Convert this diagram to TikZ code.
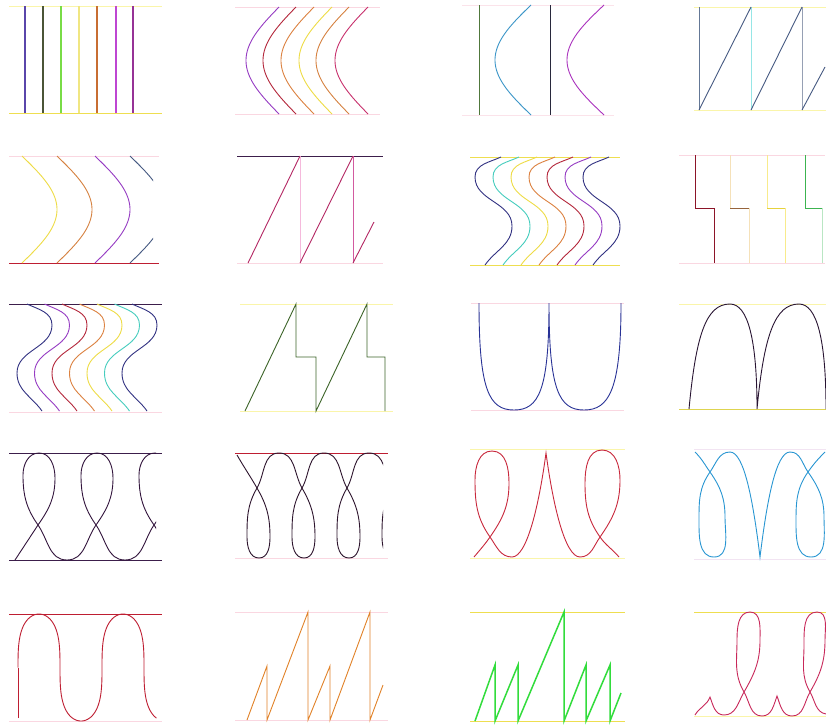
\documentclass[tikz,border=0pt]{standalone}
\definecolor{gly}{RGB}{250,245,170}
\definecolor{gy}{RGB}{238,222,80}
\definecolor{gp}{RGB}{250,215,225}
\definecolor{gdk}{RGB}{60,30,75}
\definecolor{grd}{RGB}{190,30,50}
\definecolor{navy}{RGB}{50,50,130}
\definecolor{purp}{RGB}{150,60,195}
\definecolor{redb}{RGB}{180,40,60}
\definecolor{orng}{RGB}{220,130,65}
\definecolor{yell}{RGB}{238,220,70}
\definecolor{teal}{RGB}{70,205,190}
\definecolor{magr}{RGB}{200,50,110}
\definecolor{slate}{RGB}{70,90,130}
\definecolor{pA}{RGB}{80,120,60}
\definecolor{pB}{RGB}{60,150,200}
\definecolor{pC}{RGB}{40,40,60}
\definecolor{pD}{RGB}{170,50,190}
\definecolor{pE}{RGB}{100,120,150}
\definecolor{pF}{RGB}{150,230,230}
\definecolor{pG}{RGB}{150,160,180}
\definecolor{pH}{RGB}{245,185,220}
\definecolor{pI}{RGB}{210,90,160}
\definecolor{pJ}{RGB}{180,40,100}
\definecolor{pK}{RGB}{140,20,40}
\definecolor{pL}{RGB}{245,225,185}
\definecolor{pM}{RGB}{150,100,60}
\definecolor{pN}{RGB}{248,235,140}
\definecolor{pO}{RGB}{230,210,60}
\definecolor{pP}{RGB}{60,180,80}
\definecolor{pQ}{RGB}{185,230,195}
\definecolor{pR}{RGB}{60,100,40}
\definecolor{pS}{RGB}{40,50,150}
\definecolor{pT}{RGB}{222,212,80}
\definecolor{pU}{RGB}{40,20,50}
\definecolor{pV}{RGB}{50,20,60}
\definecolor{pW}{RGB}{45,20,45}
\definecolor{pX}{RGB}{200,40,60}
\definecolor{pY}{RGB}{242,228,242}
\definecolor{pZ}{RGB}{40,150,210}
\definecolor{qA}{RGB}{190,30,50}
\definecolor{qB}{RGB}{225,130,40}
\definecolor{qC}{RGB}{50,220,60}
\definecolor{qD}{RGB}{200,40,90}
\begin{document}
\begin{tikzpicture}[x=1pt,y=1pt,
  guide/.style={line width=0.9pt},
  crv/.style={line width=0.9pt},
  bold/.style={line width=1.5pt}]
\useasboundingbox (0,0) rectangle (826,-724);
\fill[white] (0,0) rectangle (826,-724);
% ---------------- Row 1 ----------------
% P1
\draw[guide,gly] (9,-6) -- (162,-6);
\draw[guide,gy] (9,-113) -- (162,-113);
\foreach \x/\r/\g/\b in {25/90/70/170,43/75/85/55,61/120/220/70,79/240/230/130,97/200/110/50,116/190/70/210,133/150/50/150}{
  \definecolor{tmpc}{RGB}{\r,\g,\b}
  \draw[bold,tmpc] (\x,-6) -- (\x,-113);}
% P2
\draw[guide,gp] (235,-7) -- (380,-7);
\draw[guide,gp] (235,-114) -- (380,-114);
\foreach \x/\c in {279/purp,296/redb,314/orng,332/yell,349/orng!80!brown,368/magr}
  \draw[crv,\c] plot[domain=0:180,samples=40,variable=\t] ({\x-33*sin(\t)},{-7-\t/180*107});
% P3
\draw[guide,gp!70] (462,-5) -- (614,-5);
\draw[guide,gp!70] (462,-115) -- (614,-115);
\draw[crv,pA] (479,-5) -- (479,-115);
\draw[crv,pB] plot[domain=0:180,samples=40,variable=\t] ({531-36*sin(\t)},{-5-\t/180*110});
\draw[crv,pC] (550,-5) -- (550,-115);
\draw[crv,pD] plot[domain=0:180,samples=40,variable=\t] ({604-37*sin(\t)},{-5-\t/180*110});
% P4
\draw[guide,gly] (694,-7) -- (826,-7);
\draw[guide,gly] (694,-110) -- (826,-110);
\draw[crv,pE] (699,-7) -- (699,-110);
\draw[crv,pF] (751,-7) -- (751,-110);
\draw[crv,pG] (802,-7) -- (802,-110);
\draw[crv,slate] (699,-110) -- (751,-7) (751,-110) -- (802,-7) (802,-110) -- (825,-67);
% ---------------- Row 2 ----------------
% P5
\draw[guide,gp] (9,-156) -- (159,-156);
\draw[guide,grd] (9,-263) -- (159,-263);
\begin{scope}
\clip (9,-150) rectangle (153,-270);
\foreach \x/\c in {22/yell,57/orng!80!brown,95/purp,130/slate}
  \draw[crv,\c] plot[domain=0:180,samples=40,variable=\t] ({\x+35*sin(\t)},{-156-\t/180*107});
\end{scope}
% P6
\draw[guide,gdk] (237,-156) -- (383,-156);
\draw[guide,gp] (237,-263) -- (383,-263);
\draw[crv,pH] (300,-156) -- (300,-263);
\draw[crv,pI] (353,-156) -- (353,-263);
\draw[crv,pJ] (248,-263) -- (300,-156) (300,-263) -- (353,-156) (353,-263) -- (374,-222);
% P7
\draw[guide,gy] (470,-157) -- (620,-157);
\draw[guide,gy] (470,-265) -- (620,-265);
\foreach \x/\c in {501/navy,519/teal,537/yell,555/orng,573/redb,591/purp,609/navy}
  \draw[crv,\c] (\x,-157) to[out=205,in=90] ++(-26,-20) to[out=-90,in=90] ++(37,-49) to[out=-90,in=55] ++(-27,-39);
% P8
\draw[guide,gp] (679,-155) -- (825,-155);
\draw[guide,gp] (679,-263) -- (825,-263);
\draw[crv,pK] (695,-155) -- (695,-208) -- (714,-208) -- (714,-263);
\draw[crv,pL] (730,-155) -- (730,-208) (749,-208) -- (749,-263);
\draw[crv,pM] (730,-208) -- (749,-208);
\draw[crv,pN] (767,-155) -- (767,-208) (785,-208) -- (785,-263);
\draw[crv,pO] (767,-208) -- (785,-208);
\draw[crv,pP] (805,-155) -- (805,-208) -- (822,-208);
\draw[crv,pQ] (822,-208) -- (822,-263);
% ---------------- Row 3 ----------------
% P9
\draw[guide,gdk] (9,-304) -- (162,-304);
\draw[guide,gp] (9,-412) -- (162,-412);
\foreach \x/\c in {27/navy,44.5/purp,62/redb,79.5/orng,97/yell,114.5/teal,132/navy}
  \draw[crv,\c] (\x,-304) to[out=-25,in=90] ++(25,-21) to[out=-90,in=90] ++(-35,-48) to[out=-90,in=125] ++(25,-38);
% P10
\draw[guide,gly] (240,-304) -- (393,-304);
\draw[guide,gly] (240,-411) -- (393,-411);
\draw[crv,pR] (245,-411) -- (296,-304) -- (296,-357) -- (316,-357) -- (316,-411) -- (367,-304) -- (367,-357) -- (385,-357) -- (385,-411);
% P11
\draw[guide,gp] (471,-303) -- (624,-303);
\draw[guide,gp] (471,-410) -- (624,-410);
\draw[crv,pS] (479,-303) .. controls (479,-390) and (489,-410) .. (514,-410) .. controls (539,-410) and (549,-390) .. (549,-303)
  .. controls (549,-390) and (559,-410) .. (584,-410) .. controls (609,-410) and (621,-390) .. (621,-303);
% P12
\draw[guide,gly] (679,-304) -- (826,-304);
\draw[guide,pT] (679,-409) -- (826,-409);
\begin{scope}
\clip (679,-290) rectangle (826,-420);
\draw[crv,pU] (689,-409) .. controls (696,-335) and (706,-304) .. (730,-304) .. controls (748,-304) and (757,-340) .. (757,-409)
  .. controls (764,-335) and (775,-304) .. (799,-304) .. controls (817,-304) and (826,-340) .. (826,-409);
\end{scope}
% ---------------- Row 4 ----------------
% P13
\draw[guide,gdk] (9,-453) -- (162,-453);
\draw[guide,gdk] (9,-560) -- (162,-560);
\begin{scope}
\clip (9,-445) rectangle (156,-570);
\draw[crv,pV] (15,-560) -- (38,-525);
\foreach \c in {38,96,154}
  \draw[crv,pV] (\c,-525) to[out=55,in=-90] ++(17,47) to[out=90,in=0] ++(-16,25) to[out=180,in=90] ++(-16,-22) to[out=-90,in=125] ++(15,-50) to[out=-55,in=180] ++(29,-35) to[out=0,in=-125] ++(29,35);
\end{scope}
% P14
\draw[guide,grd] (235,-453) -- (388,-453);
\draw[guide,gp] (235,-558) -- (388,-558);
\begin{scope}
\clip (235,-445) rectangle (383,-565);
\draw[crv,pW] (237,-455) to[out=-60,in=120] (257,-488);
\foreach \c in {257,302,347,392}
  \draw[crv,pW] (\c,-488) to[out=-60,in=90] ++(13,-49) to[out=-90,in=0] ++(-11,-21) to[out=180,in=-90] ++(-12,21) to[out=90,in=-120] ++(10,49) to[out=60,in=180] ++(22,35) to[out=0,in=120] ++(23,-35);
\end{scope}
% P15
\draw[guide,gly] (470,-449) -- (625,-449);
\draw[guide,gly] (470,-558) -- (625,-558);
\draw[crv,pX] (474,-557) to[out=50,in=235] (490,-537) to[out=55,in=-90] (509,-483) to[out=90,in=0] (492,-451) to[out=180,in=90] (475,-480) to[out=-90,in=125] (490,-537) to[out=-55,in=180] (512,-557)
  .. controls (527,-557) and (539,-505) .. (546,-453) .. controls (553,-505) and (565,-557) .. (580,-557)
  to[out=0,in=-125] (600,-537) to[out=55,in=-90] (620,-480) to[out=90,in=0] (602,-450) to[out=180,in=90] (585,-483) to[out=-90,in=125] (600,-537) to[out=-55,in=130] (619,-557);
% P16
\draw[guide,pY] (694,-449) -- (826,-449);
\draw[guide,pY] (694,-559) -- (826,-559);
\draw[crv,pZ] (695,-452) to[out=-45,in=125] (710,-472) to[out=-55,in=90] (725,-517) to[out=-90,in=0] (714,-557) to[out=180,in=-90] (699,-520) to[out=90,in=-125] (710,-472) to[out=55,in=180] (730,-452)
  .. controls (744,-452) and (753,-500) .. (760,-557) .. controls (767,-500) and (776,-452) .. (790,-452)
  to[out=0,in=125] (808,-472) to[out=-55,in=90] (824,-517) to[out=-90,in=0] (811,-557) to[out=180,in=-90] (796,-520) to[out=90,in=-125] (808,-472) to[out=55,in=-135] (825,-452);
% ---------------- Row 5 ----------------
% P17
\draw[guide,grd] (9,-614) -- (162,-614);
\draw[guide,gp] (9,-721) -- (162,-721);
\draw[crv,qA] (18,-718) -- (18,-667.5);
\draw[crv,qA] plot[domain=-90:521,samples=160,variable=\t] ({39+13.37*(\t/180*pi+0.5*sin(2*\t))},{-667.5+53.5*cos(\t)});
% P18
\draw[guide,gp] (235,-612) -- (388,-612);
\draw[guide,gp] (235,-720) -- (388,-720);
\draw[crv,qB] (247,-720) -- (267,-666) -- (267,-720) -- (308,-612) -- (308,-720) -- (330,-666) -- (330,-720) -- (370,-612) -- (370,-720) -- (383,-685);
% P19
\draw[guide,gy] (470,-612) -- (625,-612);
\draw[guide,gy] (470,-721) -- (625,-721);
\draw[bold,qC] (475,-721) -- (495,-665) -- (495,-721) -- (518,-665) -- (518,-721) -- (564,-612) -- (564,-721) -- (586,-665) -- (586,-721) -- (610,-665) -- (610,-721) -- (621,-693);
% P20
\draw[guide,gy] (694,-612) -- (826,-612);
\draw[guide,gly] (694,-716) -- (826,-716);
\draw[crv,qD] (695,-715) to[out=60,in=-110] (710,-697) to[out=-70,in=180] (724,-715) to[out=0,in=-120] (744,-692) to[out=60,in=-90] (760,-640) to[out=90,in=0] (750,-612) to[out=180,in=90] (737,-640) to[out=-90,in=120] (744,-692) to[out=-60,in=180] (762,-716) to[out=0,in=-110] (777,-696) to[out=-70,in=180] (792,-716) to[out=0,in=-120] (810,-692) to[out=60,in=-90] (825,-640) to[out=90,in=0] (817,-612) to[out=180,in=90] (804,-645) to[out=-90,in=120] (810,-692) to[out=-60,in=170] (826,-714);
\end{tikzpicture}
\end{document}
